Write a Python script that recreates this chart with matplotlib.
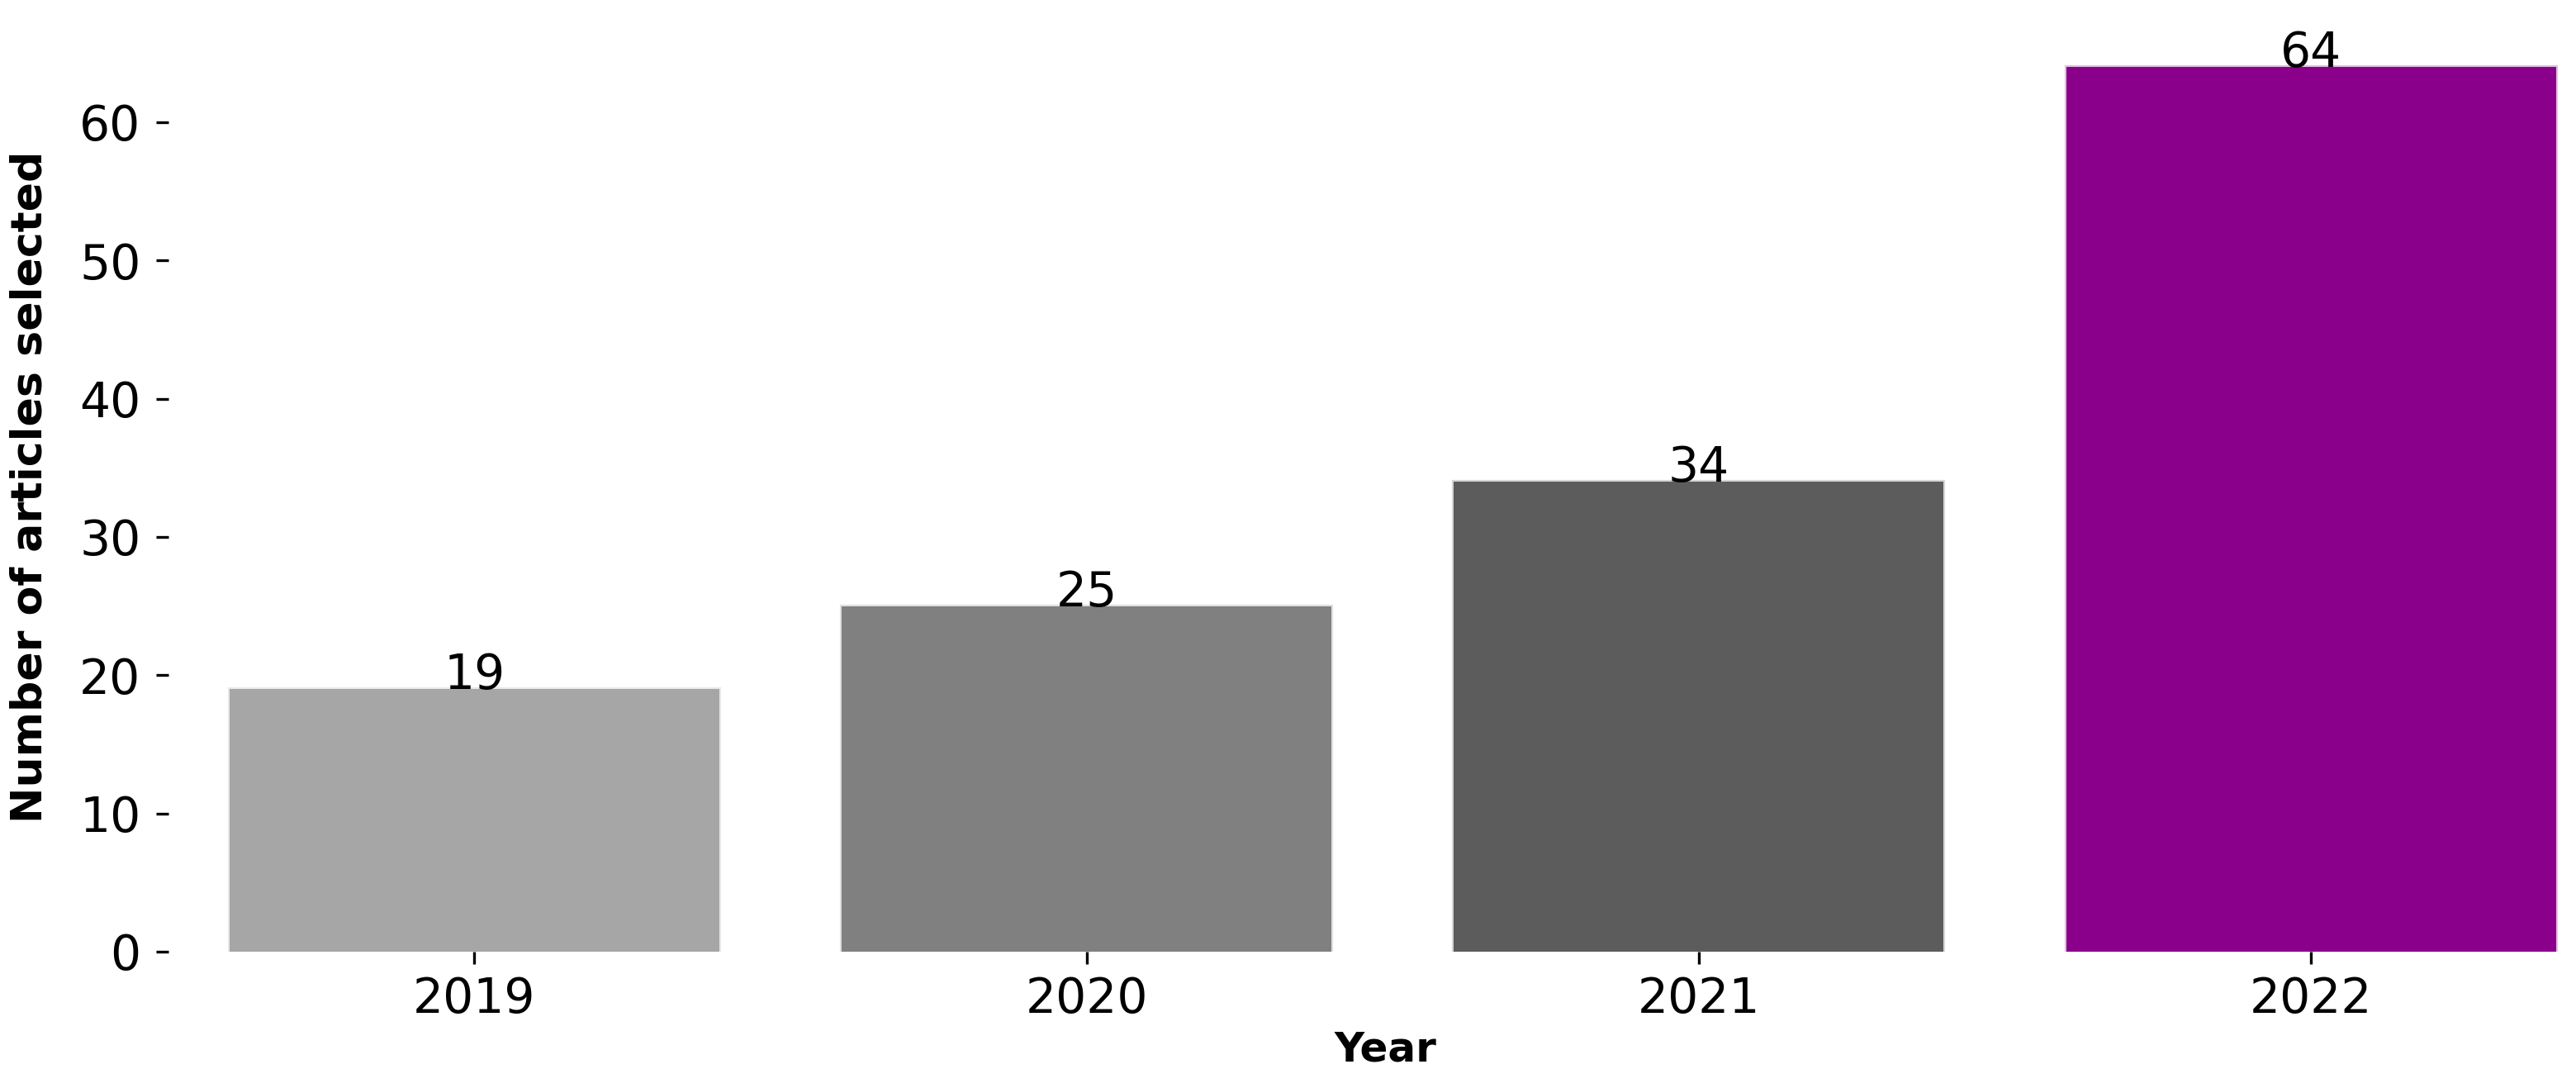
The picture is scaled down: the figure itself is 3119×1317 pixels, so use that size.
import matplotlib
matplotlib.use('Agg')
import matplotlib.pyplot as plt
import numpy as np

years = ['2019', '2020', '2021', '2022']
counts = [19, 25, 34, 64]
colors = ['#a6a6a6', '#808080', '#5c5c5c', '#8b008b']

fig = plt.figure(figsize=(3119/300, 1317/300), dpi=300)
ax = fig.add_axes([0.0653, 0.1253, 0.9507, 0.854])

x = np.arange(len(years))
bars = ax.bar(x, counts, width=0.8, color=colors)
for b, c in zip(bars, colors):
    b.set_edgecolor(matplotlib.colors.to_rgba(c, 0.25))
    b.set_linewidth(1)
for xi, c in zip(x, counts):
    ax.text(xi, c, str(c), ha='center', va='baseline', fontsize=14)

ax.set_xticks(x)
ax.set_xticklabels(years)
ax.set_xlim(-0.5, 3.5)
ax.set_ylim(0, 64 * 1.05)
ax.tick_params(labelsize=14)
ax.tick_params(axis='y', pad=4.5)
for s in ax.spines.values():
    s.set_visible(False)

ax.set_xlabel('Year', fontsize=12, fontweight='bold')
ax.set_ylabel('Number of articles selected', fontsize=12.5, fontweight='bold')
ax.yaxis.set_label_coords(-0.048, 0.5)
ax.xaxis.set_label_coords(0.497, -0.105)
ax.xaxis.label.set_va('center')

fig.savefig('out.png', dpi=300)
